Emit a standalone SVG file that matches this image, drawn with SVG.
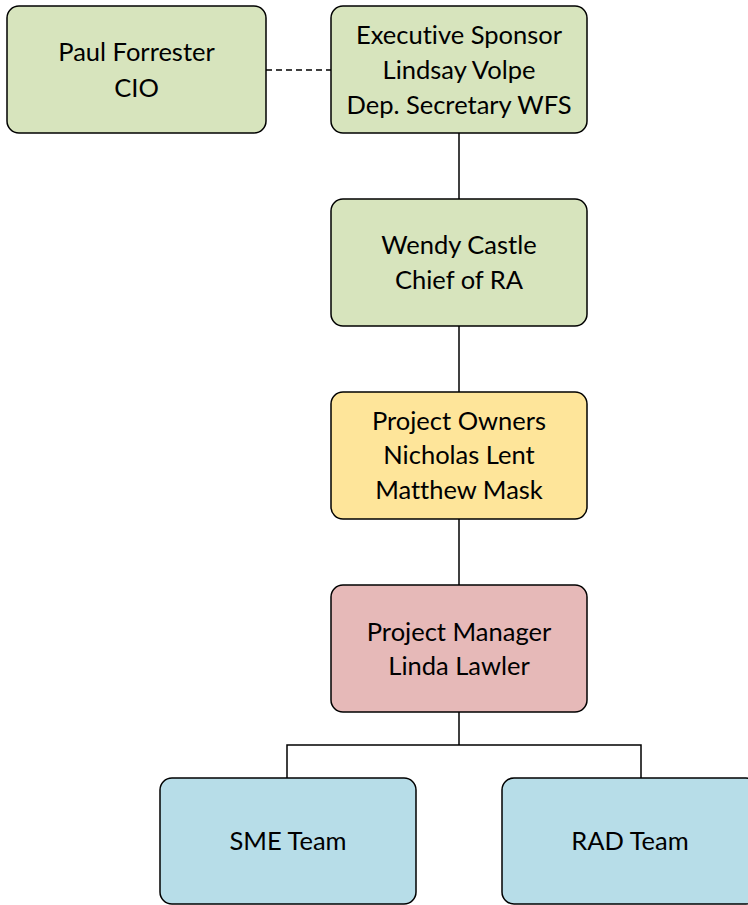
<svg xmlns="http://www.w3.org/2000/svg" width="748" height="905" viewBox="0 0 748 905">
<style>
.box{stroke:#000;stroke-width:1.5}
.g{fill:#D7E4BD}.y{fill:#FEE59A}.p{fill:#E6B9B8}.b{fill:#B7DDE8}
text{font-family:Lato,"Open Sans","Liberation Sans",sans-serif;font-size:25.5px;fill:#000;text-anchor:middle;font-variant-ligatures:none}
.c{stroke:#000;stroke-width:1.5;fill:none}
</style>
<rect width="748" height="905" fill="#fff"/>
<g id="connectors">
<line class="c" x1="266" y1="70" x2="331" y2="70" stroke-dasharray="6,4"/>
<line class="c" x1="459" y1="133" x2="459" y2="199"/>
<line class="c" x1="459" y1="326" x2="459" y2="392"/>
<line class="c" x1="459" y1="519" x2="459" y2="585"/>
<polyline class="c" points="459,712 459,745"/>
<polyline class="c" points="287,778 287,745 641,745 641,778"/>
</g>
<g id="paul">
<rect class="box g" x="7" y="6" width="259" height="127" rx="12"/>
<text x="136.5" y="61">Paul Forrester</text>
<text x="136.5" y="97">CIO</text>
</g>
<g id="exec">
<rect class="box g" x="331" y="6" width="256" height="127" rx="12"/>
<text x="459" y="44">Executive Sponsor</text>
<text x="459" y="79">Lindsay Volpe</text>
<text x="459" y="114">Dep. Secretary WFS</text>
</g>
<g id="wendy">
<rect class="box g" x="331" y="199" width="256" height="127" rx="12"/>
<text x="459" y="254">Wendy Castle</text>
<text x="459" y="289">Chief of RA</text>
</g>
<g id="owners">
<rect class="box y" x="331" y="392" width="256" height="127" rx="12"/>
<text x="459" y="430">Project Owners</text>
<text x="459" y="464">Nicholas Lent</text>
<text x="459" y="499">Matthew Mask</text>
</g>
<g id="pm">
<rect class="box p" x="331" y="585" width="256" height="127" rx="12"/>
<text x="459" y="641">Project Manager</text>
<text x="459" y="675">Linda Lawler</text>
</g>
<g id="sme">
<rect class="box b" x="160" y="778" width="256" height="126" rx="12"/>
<text x="288" y="850">SME Team</text>
</g>
<g id="rad">
<rect class="box b" x="502" y="778" width="256" height="126" rx="12"/>
<text x="630" y="850">RAD Team</text>
</g>
</svg>
